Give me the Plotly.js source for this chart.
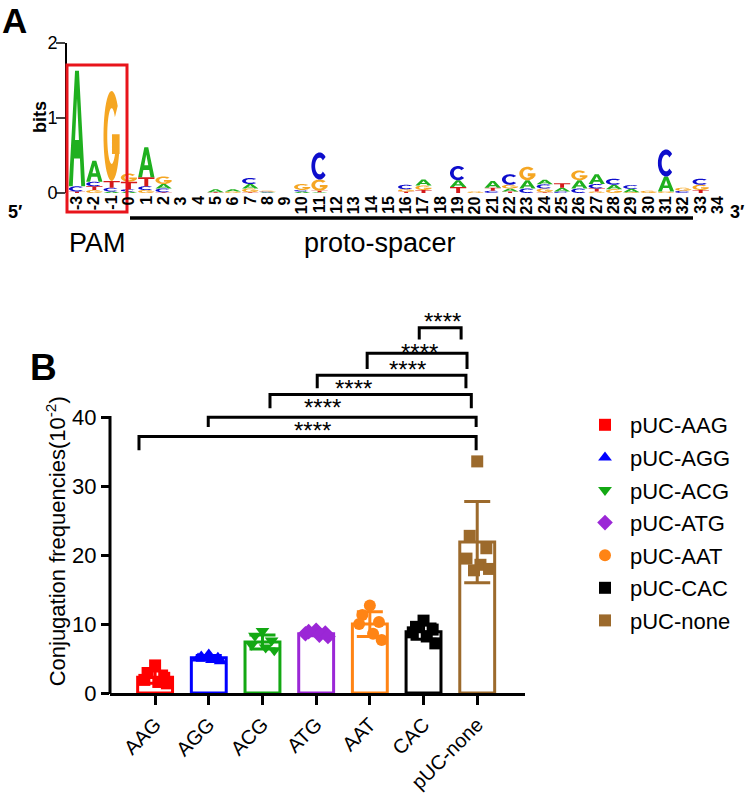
<!DOCTYPE html>
<html><head><meta charset="utf-8">
<script src="https://cdn.plot.ly/plotly-3.0.1.min.js"></script>
<style>html,body{margin:0;padding:0;background:#fff}#chart{width:750px;height:803px}</style>
</head><body><div id="chart"></div>
<script>
// ---------- Panel A: sequence logo (bits) ----------
const logoPositions = [-3,-2,-1,0,1,2,3,4,5,6,7,8,9,10,11,12,13,14,15,16,17,18,19,20,21,22,23,24,25,26,27,28,29,30,31,32,33,34];
const logoA = [1.54,0.28,0.02,0.02,0.40,0.06,0,0,0.04,0.03,0.06,0.01,0,0.02,0.01,0,0,0,0,0,0.08,0,0.09,0,0.09,0.04,0.11,0.06,0.05,0.11,0.13,0.06,0.045,0,0.20,0,0,0];
const logoC = [0.07,0.06,0.05,0.03,0.05,0.05,0,0,0,0,0.08,0.01,0,0.02,0.36,0,0,0,0,0.06,0,0,0.19,0,0.03,0.14,0.06,0.055,0.02,0.06,0.06,0.08,0.05,0,0.36,0.03,0.08,0];
const logoG = [0,0.04,1.20,0.11,0.04,0.10,0,0,0,0.02,0.05,0.01,0,0.08,0.15,0,0,0,0,0.03,0.06,0,0,0.02,0,0.05,0.18,0.05,0,0.13,0.02,0.05,0.01,0.03,0.02,0.04,0.07,0];
const logoT = [0.02,0.05,0.09,0.10,0.12,0.01,0,0,0.01,0,0.01,0,0,0,0.02,0,0,0,0,0.02,0.04,0,0.08,0,0.04,0.02,0,0.01,0.06,0,0.04,0,0,0,0,0,0.04,0];
const logoTickText = ['-3','-2','-1','0','1','2','3','4','5','6','7','8','9','10','11','12','13','14','15','16','17','18','19','20','21','22','23','24','25','26','27','28','29','30','31','32','33','34'];

// ---------- Panel B: conjugation frequencies ----------
const groups = ['AAG','AGG','ACG','ATG','AAT','CAC','pUC-none'];
const legendNames = ['pUC-AAG','pUC-AGG','pUC-ACG','pUC-ATG','pUC-AAT','pUC-CAC','pUC-none'];
const groupMeans = [2.3, 5.1, 7.4, 8.6, 10.0, 8.9, 21.9];
const groupSD = [0.9, 0.35, 1.0, 0.3, 1.8, 1.1, 5.9];
const ptsAAG = [4.0, 2.9, 2.2, 1.9, 1.6, 1.4];
const ptsAGG = [5.6, 5.3, 5.1, 5.0, 4.8, 4.6];
const ptsACG = [9.0, 8.3, 7.6, 7.0, 6.6, 6.2];
const ptsATG = [9.1, 8.9, 8.7, 8.6, 8.4, 8.2];
const ptsAAT = [12.7, 11.3, 10.3, 10.0, 8.6, 7.7];
const ptsCAC = [10.5, 9.6, 9.2, 8.8, 8.2, 7.2];
const ptsNone = [33.6, 22.8, 21.0, 19.5, 18.6, 18.0, 17.8];
const comparisons = [[5,6],[4,6],[3,6],[2,6],[1,6],[0,6]];
const compLabels = ['****','****','****','****','****','****'];

// ---------- styles ----------
const FONT = 'Liberation Sans, Arial, sans-serif';
const letterColors = {A:'#1fb01f', C:'#0d0dcc', G:'#f5a623', T:'#d41a1a'};
const groupColors = ['#ff0000','#0000ff','#13a813','#9b27d6','#ff8415','#000000','#9c6a2c'];
const groupSymbols = ['square','triangle-up','triangle-down','diamond','circle','square','square'];
const jitter = [0.0,-0.14,0.17,-0.2,0.06,0.22,-0.06];

// glyph outlines in a unit box
function glyphPolys(L){
  const polys=[];
  if(L==='A'){
    polys.push([[0,0],[0.24,0],[0.32,0.24],[0.68,0.24],[0.76,0],[1,0],[0.62,1],[0.38,1]]);
    polys.push([[0.38,0.4],[0.5,0.76],[0.62,0.4]]);
  } else if(L==='T'){
    polys.push([[0,1],[0,0.8],[0.38,0.8],[0.38,0],[0.62,0],[0.62,0.8],[1,0.8],[1,1]]);
  } else {
    const a0 = 42, a1 = (L==='C') ? 318 : 345;
    const pts=[]; const n=40;
    for(let i=0;i<=n;i++){const a=(a0+(a1-a0)*i/n)*Math.PI/180; pts.push([0.5+0.5*Math.cos(a),0.5+0.5*Math.sin(a)]);}
    for(let i=n;i>=0;i--){const a=(a0+(a1-a0)*i/n)*Math.PI/180; pts.push([0.5+0.27*Math.cos(a),0.5+0.31*Math.sin(a)]);}
    polys.push(pts);
    if(L==='G') polys.push([[0.52,0.3],[0.99,0.3],[0.99,0.52],[0.52,0.52]]);
  }
  return polys;
}
function glyphPath(L, xc, y0, h, w){
  return glyphPolys(L).map(poly => 'M' + poly.map(p => (xc - w/2 + p[0]*w).toFixed(4) + ',' + (y0 + p[1]*h).toFixed(5)).join('L') + 'Z').join(' ');
}

const shapes = [];
logoPositions.forEach((pos, i) => {
  const stack = [['A',logoA[i]],['C',logoC[i]],['G',logoG[i]],['T',logoT[i]]].filter(d => d[1] > 0).sort((a,b) => a[1]-b[1]);
  let base = 0;
  stack.forEach(([L,h]) => {
    shapes.push({type:'path', xref:'x', yref:'y', path: glyphPath(L, pos, base, h, 0.94),
      fillcolor: letterColors[L], fillrule:'nonzero', line:{width:0}, layer:'above'});
    base += h;
  });
});
// PAM box and proto-spacer underline
shapes.push({type:'rect', xref:'paper', yref:'paper', x0:67/750, x1:127/750, y0:1-212/803, y1:1-65/803, line:{color:'#e8141b', width:3}, fillcolor:'rgba(0,0,0,0)'});
shapes.push({type:'line', xref:'paper', yref:'paper', x0:130/750, x1:693/750, y0:1-218/803, y1:1-218/803, line:{color:'#000', width:3.5}});
// Panel B y axis line (0..40)
shapes.push({type:'line', xref:'paper', yref:'paper', x0:110/750, x1:110/750, y0:1-694/803, y1:1-416/803, line:{color:'#000', width:3}});

// significance brackets
const brTop = [53.0, 49.3, 46.1, 43.3, 40.0, 37.2];
const brLeg = [51.3, 47.0, 44.2, 41.3, 38.6, 35.2];
const brDx0 = [-0.08,-0.05,0.02,0.14,-0.01,-0.30];
const brDx1 = [-0.30,-0.19,-0.21,-0.11,-0.02,-0.02];
const starX = [5.35, 4.93, 4.70, 3.70, 3.11, 2.94];
const starY = [54.3, 49.9, 47.4, 44.6, 41.9, 38.5];
const annotations = [];
comparisons.forEach((c, k) => {
  const xa = c[0] + brDx0[k], xb = c[1] + brDx1[k];
  shapes.push({type:'path', xref:'x2', yref:'y2',
    path:`M${xa},${brLeg[k]}L${xa},${brTop[k]}L${xb},${brTop[k]}L${xb},${brLeg[k]}`,
    line:{color:'#000', width:3}});
  annotations.push({xref:'x2', yref:'y2', x:starX[k], y:starY[k], text:compLabels[k], showarrow:false,
    xanchor:'center', yanchor:'middle', yshift:-3, font:{family:FONT, size:24, color:'#000'}});
});

// position labels of the logo
logoPositions.forEach((pos, i) => {
  annotations.push({xref:'x', yref:'paper', x:pos, y:1-195/803, xanchor:'center', yanchor:'top', textangle:-90,
    text:logoTickText[i], showarrow:false, borderpad:0, font:{family:FONT, size:16, weight:'bold', color:'#000'}});
});

// text annotations
annotations.push(
  {xref:'paper', yref:'paper', x:0, y:1-21/803, xanchor:'left', yanchor:'middle', text:'A', showarrow:false, font:{family:FONT, size:35, weight:'bold', color:'#000'}},
  {xref:'paper', yref:'paper', x:28/750, y:1-367/803, xanchor:'left', yanchor:'middle', text:'B', showarrow:false, font:{family:FONT, size:37, weight:'bold', color:'#000'}},
  {xref:'paper', yref:'paper', x:40/750, y:1-117/803, xanchor:'center', yanchor:'middle', textangle:-90, text:'bits', showarrow:false, font:{family:FONT, size:18, weight:'bold', color:'#000'}},
  {xref:'paper', yref:'paper', x:15/750, y:1-212/803, xanchor:'center', yanchor:'middle', text:'5′', showarrow:false, font:{family:FONT, size:18, weight:'bold', color:'#000'}},
  {xref:'paper', yref:'paper', x:737/750, y:1-212/803, xanchor:'center', yanchor:'middle', text:'3′', showarrow:false, font:{family:FONT, size:18, weight:'bold', color:'#000'}},
  {xref:'paper', yref:'paper', x:97/750, y:1-243/803, xanchor:'center', yanchor:'middle', text:'PAM', showarrow:false, font:{family:FONT, size:27, color:'#000'}},
  {xref:'paper', yref:'paper', x:380/750, y:1-243/803, xanchor:'center', yanchor:'middle', text:'proto-spacer', showarrow:false, font:{family:FONT, size:27, color:'#000'}},
  {xref:'paper', yref:'y2', x:56/750, y:22, xanchor:'center', yanchor:'middle', textangle:-90, text:'Conjugation frequencies(10<sup>-2</sup>)', showarrow:false, font:{family:FONT, size:22, color:'#000'}}
);

// traces
const traces = [];
traces.push({type:'scatter', x:logoPositions, y:logoPositions.map(()=>0), mode:'none', xaxis:'x', yaxis:'y', hoverinfo:'skip', showlegend:false});
groups.forEach((g, i) => {
  traces.push({type:'bar', x:[i], y:[groupMeans[i]], width:0.65, xaxis:'x2', yaxis:'y2', showlegend:false,
    marker:{color:'rgba(255,255,255,0)', line:{color:groupColors[i], width:3}},
    error_y:{type:'data', array:[groupSD[i]], visible:true, color:groupColors[i], thickness:3, width:13}});
});
const allPts = [ptsAAG, ptsAGG, ptsACG, ptsATG, ptsAAT, ptsCAC, ptsNone];
allPts.forEach((pts, i) => {
  traces.push({type:'scatter', mode:'markers', xaxis:'x2', yaxis:'y2', name:legendNames[i], legendgroup:'g'+i,
    x: pts.map((v, j) => i + jitter[j % jitter.length]), y: pts,
    marker:{symbol:groupSymbols[i], size:12, color:groupColors[i]}});
});

const layout = {
  width:750, height:803, margin:{l:0, r:0, t:0, b:0}, paper_bgcolor:'#fff', plot_bgcolor:'rgba(0,0,0,0)',
  showlegend:true, barmode:'overlay',
  font:{family:FONT, color:'#000'},
  xaxis:{domain:[66.6/750, 728.4/750], range:[-3.6, 34.6], anchor:'y', showgrid:false, zeroline:false, showline:false,
    showticklabels:false, ticks:''},
  yaxis:{domain:[1-193/803, 1-43/803], range:[0,2], anchor:'x', showgrid:false, zeroline:false, showline:true, linewidth:1.5, linecolor:'#000',
    ticks:'outside', ticklen:9, tickwidth:1.5, tickvals:[0,1,2], ticklabelstandoff:-5, tickfont:{family:FONT, size:18, color:'#000'}},
  xaxis2:{domain:[110/750, 525/750], range:[-0.84, 6.89], anchor:'y2', showgrid:false, zeroline:false, showline:true, linewidth:3, linecolor:'#000',
    tickmode:'array', tickvals:[0,1,2,3,4,5,6], ticktext:groups, ticks:'outside', ticklen:9, tickwidth:3, tickcolor:'#000', tickangle:-45,
    tickfont:{family:FONT, size:20, color:'#000'}},
  yaxis2:{domain:[1-693/803, 1-307/803], range:[0,56], anchor:'x2', showgrid:false, zeroline:false, showline:false,
    tickmode:'array', tickvals:[0,10,20,30,40], ticks:'outside', ticklen:8, tickwidth:3, tickcolor:'#000',
    tickfont:{family:FONT, size:22, color:'#000'}},
  legend:{x:580/750, y:1-404/803, xanchor:'left', yanchor:'top', font:{family:FONT, size:22, color:'#000'}, tracegroupgap:1, itemwidth:40, bgcolor:'rgba(0,0,0,0)'},
  shapes: shapes, annotations: annotations
};
Plotly.newPlot('chart', traces, layout, {displayModeBar:false, staticPlot:true});
</script></body></html>
